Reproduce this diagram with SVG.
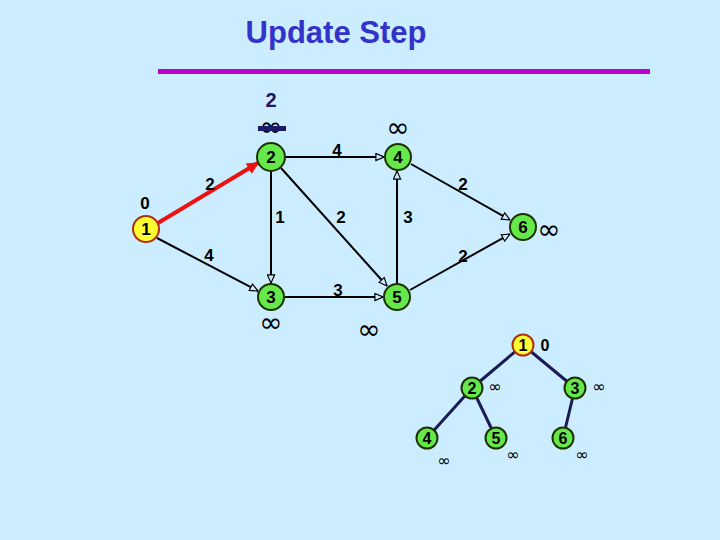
<svg xmlns="http://www.w3.org/2000/svg" width="720" height="540" viewBox="0 0 720 540">
<defs>
<marker id="open" viewBox="0 0 10 10" refX="10" refY="5" markerWidth="9" markerHeight="9" markerUnits="userSpaceOnUse" orient="auto">
<path d="M1,1 L10,5 L1,9 Z" fill="#CCECFF" stroke="#000" stroke-width="1.3"/>
</marker>
<marker id="red" viewBox="0 0 10 10" refX="9" refY="5" markerWidth="14" markerHeight="12" markerUnits="userSpaceOnUse" orient="auto">
<path d="M0,0 L10,5 L0,10 Z" fill="#EE1111"/>
</marker>
<style>
.e{stroke:#000;stroke-width:2;fill:none;marker-end:url(#open)}
.t{stroke:#1a1a55;stroke-width:3}
.n{fill:#66E84A;stroke:#1a3300;stroke-width:2}
.y{fill:#FFFF33;stroke:#B03010;stroke-width:2}
.nl{font-family:"Liberation Sans",Arial,sans-serif;font-weight:bold;font-size:17px;fill:#000;text-anchor:middle}
.hl{font-family:"Liberation Sans",Arial,sans-serif;font-weight:bold;font-size:16px;fill:#000;text-anchor:middle}
.el{font-family:"Liberation Sans",Arial,sans-serif;font-weight:bold;font-size:17px;fill:#000;text-anchor:middle}
.inf{font-family:"DejaVu Sans",sans-serif;font-size:28px;fill:#000;text-anchor:middle}
.sinf{font-family:"DejaVu Sans",sans-serif;font-size:16px;fill:#000;text-anchor:middle}
</style>
</defs>
<rect width="720" height="540" fill="#CCECFF"/>
<text x="336" y="43" font-family="Liberation Sans,Arial,sans-serif" font-weight="bold" font-size="31" fill="#3333CC" text-anchor="middle">Update Step</text>
<rect x="158" y="69" width="492" height="5" fill="#BB00CC"/>

<g id="connectors">
<line x1="158" y1="223" x2="258" y2="163" stroke="#EE1111" stroke-width="4" marker-end="url(#red)"/>
<line class="e" x1="285" y1="157" x2="384" y2="157"/>
<line class="e" x1="271" y1="171" x2="271" y2="283"/>
<line class="e" x1="281" y1="168" x2="387" y2="286"/>
<line class="e" x1="397" y1="283" x2="397" y2="171"/>
<line class="e" x1="411" y1="164" x2="510" y2="220"/>
<line class="e" x1="410" y1="290" x2="510" y2="234"/>
<line class="e" x1="157" y1="238" x2="258" y2="291"/>
<line class="e" x1="285" y1="297" x2="383" y2="297"/>
<line class="t" x1="523" y1="345" x2="472" y2="388"/>
<line class="t" x1="523" y1="345" x2="575" y2="388"/>
<line class="t" x1="472" y1="388" x2="427" y2="438"/>
<line class="t" x1="472" y1="388" x2="496" y2="438"/>
<line class="t" x1="575" y1="388" x2="563" y2="438"/>
</g>

<g id="edge-labels">
<text class="el" x="210" y="190">2</text>
<text class="el" x="337" y="156">4</text>
<text class="el" x="280" y="223">1</text>
<text class="el" x="341" y="223">2</text>
<text class="el" x="408" y="223">3</text>
<text class="el" x="463" y="190">2</text>
<text class="el" x="209" y="261">4</text>
<text class="el" x="463" y="262">2</text>
<text class="el" x="338" y="296">3</text>
</g>

<g id="node1">
<circle class="y" cx="146" cy="229" r="13"/>
<text class="nl" x="146" y="235">1</text>
<text class="nl" x="145" y="209" font-size="19">0</text>
</g>
<g id="node2">
<circle class="n" cx="271" cy="157" r="14"/>
<text class="nl" x="271" y="163">2</text>
<text x="271" y="107" font-family="Liberation Sans,Arial,sans-serif" font-weight="bold" font-size="20" fill="#1a1a66" text-anchor="middle">2</text>
<text class="inf" x="271" y="136" font-size="20" fill="#1a1a66">∞</text>
<rect x="258" y="126" width="28" height="5" fill="#1a1a66"/>
</g>
<g id="node4">
<circle class="n" cx="398" cy="157" r="13"/>
<text class="nl" x="398" y="163">4</text>
<text class="inf" x="398" y="137">∞</text>
</g>
<g id="node6">
<circle class="n" cx="523" cy="227" r="13"/>
<text class="nl" x="523" y="233">6</text>
<text class="inf" x="549" y="239">∞</text>
</g>
<g id="node3">
<circle class="n" cx="271" cy="297" r="13"/>
<text class="nl" x="271" y="303">3</text>
<text class="inf" x="271" y="332">∞</text>
</g>
<g id="node5">
<circle class="n" cx="397" cy="297" r="13"/>
<text class="nl" x="397" y="303">5</text>
<text class="inf" x="369" y="339">∞</text>
</g>

<g id="heap1">
<circle class="y" cx="523" cy="345" r="10.5" stroke="#1a1a33"/>
<text class="hl" x="523" y="351">1</text>
<text class="hl" x="545" y="351">0</text>
</g>
<g id="heap2">
<circle class="n" cx="472" cy="388" r="10.5"/>
<text class="hl" x="472" y="394">2</text>
<text class="sinf" x="495" y="392">∞</text>
</g>
<g id="heap3">
<circle class="n" cx="575" cy="388" r="10.5"/>
<text class="hl" x="575" y="394">3</text>
<text class="sinf" x="599" y="392">∞</text>
</g>
<g id="heap4">
<circle class="n" cx="427" cy="438" r="10.5"/>
<text class="hl" x="427" y="444">4</text>
<text class="sinf" x="444" y="466">∞</text>
</g>
<g id="heap5">
<circle class="n" cx="496" cy="438" r="10.5"/>
<text class="hl" x="496" y="444">5</text>
<text class="sinf" x="513" y="460">∞</text>
</g>
<g id="heap6">
<circle class="n" cx="563" cy="438" r="10.5"/>
<text class="hl" x="563" y="444">6</text>
<text class="sinf" x="582" y="460">∞</text>
</g>
</svg>
